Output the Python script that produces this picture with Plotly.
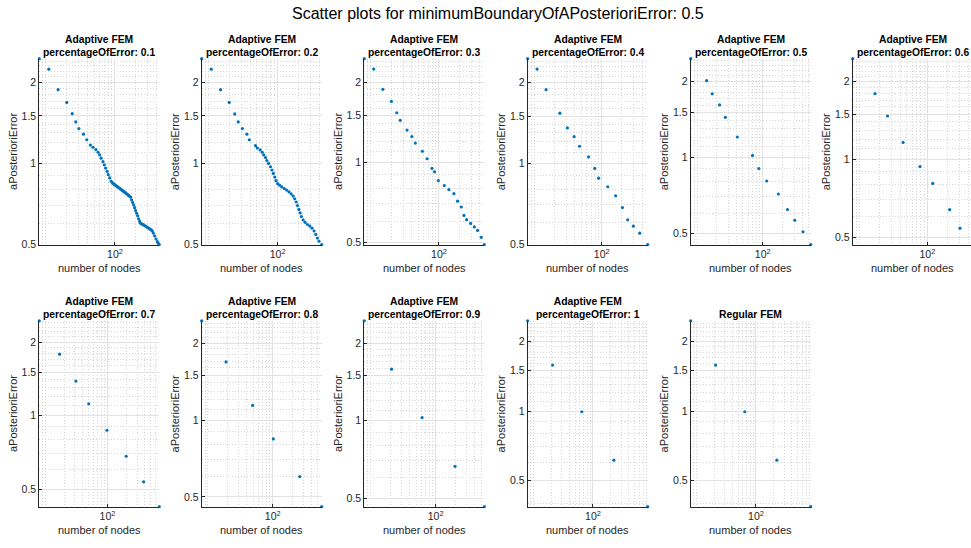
import math
import plotly.graph_objects as go

# ---------------- data ----------------
nodes_01 = [8, 11, 15, 20, 24, 27, 30, 35, 39, 44, 48, 53, 57, 60, 63, 67, 70, 73, 77, 80,
            84, 88, 92, 96, 99, 102, 106, 109, 113, 117, 121, 125, 129, 134, 138, 143, 148,
            153, 158, 163, 169, 174, 180, 186, 193, 199, 206, 213, 220, 228, 235, 246, 257,
            269, 281, 294, 308, 322, 336, 348, 359, 376, 393, 411, 425, 439]
err_01 = [2.449, 2.238, 1.879, 1.684, 1.530, 1.426, 1.347, 1.284, 1.224, 1.170, 1.147, 1.125,
          1.100, 1.075, 1.046, 1.016, 0.988, 0.961, 0.934, 0.908, 0.883, 0.858, 0.846, 0.839,
          0.834, 0.829, 0.823, 0.818, 0.814, 0.808, 0.802, 0.798, 0.792, 0.787, 0.782, 0.777,
          0.771, 0.766, 0.760, 0.755, 0.750, 0.733, 0.717, 0.701, 0.685, 0.668, 0.653, 0.639,
          0.623, 0.609, 0.600, 0.595, 0.592, 0.587, 0.584, 0.579, 0.575, 0.570, 0.566, 0.561,
          0.551, 0.538, 0.524, 0.512, 0.505, 0.4995]

nodes_02 = [8, 11, 15, 20, 24, 27, 31, 36, 39, 48, 51, 56, 60, 63, 67, 70, 74, 79, 83, 87, 91,
            95, 100, 107, 115, 125, 135, 146, 157, 168, 177, 186, 194, 203, 212, 221, 234, 250,
            270, 292, 315, 337, 356, 376, 397, 434]
err_02 = [2.449, 2.238, 1.879, 1.684, 1.526, 1.426, 1.347, 1.284, 1.224, 1.164, 1.141, 1.122,
          1.100, 1.075, 1.051, 1.025, 0.9995, 0.972, 0.945, 0.918, 0.890, 0.863, 0.841, 0.830,
          0.818, 0.807, 0.796, 0.784, 0.771, 0.756, 0.739, 0.719, 0.697, 0.675, 0.655, 0.635,
          0.617, 0.604, 0.593, 0.585, 0.575, 0.561, 0.545, 0.528, 0.514, 0.4995]

nodes_03 = [8, 11, 15, 20, 24, 27, 34, 40, 45, 57, 67, 79, 86, 98, 120, 140, 166, 188, 213,
            233, 255, 292, 331, 370, 419, 464]
err_03 = [2.459, 2.246, 1.885, 1.697, 1.538, 1.440, 1.323, 1.251, 1.182, 1.101, 1.032, 0.950,
          0.921, 0.854, 0.818, 0.789, 0.762, 0.714, 0.679, 0.631, 0.608, 0.589, 0.571, 0.554,
          0.522, 0.490]

nodes_04 = [8, 11, 15, 24, 31, 39, 47, 64, 79, 90, 123, 161, 203, 243, 295, 366, 481]
err_04 = [2.455, 2.244, 1.880, 1.537, 1.354, 1.256, 1.157, 1.055, 0.956, 0.879, 0.817, 0.756,
          0.683, 0.615, 0.582, 0.548, 0.497]

nodes_05 = [8, 14, 17, 22, 27, 41, 70, 87, 115, 173, 238, 307, 411, 538]
err_05 = [2.45, 2.006, 1.781, 1.609, 1.438, 1.203, 1.018, 0.904, 0.807, 0.717, 0.623, 0.565,
          0.509, 0.453]

nodes_06 = [8, 17, 26, 44, 78, 120, 213, 302, 464]
err_06 = [2.457, 1.799, 1.474, 1.165, 0.940, 0.809, 0.640, 0.543, 0.469]

nodes_07 = [8, 17, 31, 50, 98, 200, 381, 682]
err_07 = [2.444, 1.784, 1.384, 1.118, 0.871, 0.682, 0.536, 0.424]

nodes_08 = [8, 19, 49, 102, 261, 571]
err_08 = [2.45, 1.690, 1.142, 0.844, 0.601, 0.458]

nodes_09 = [8, 21, 62, 199, 561]
err_09 = [2.45, 1.588, 1.029, 0.665, 0.463]

nodes_10 = [8, 21, 65, 225, 833]
err_10 = [2.457, 1.58, 0.993, 0.613, 0.386]

nodes_reg = [8, 21, 65, 225, 833]
err_reg = [2.457, 1.58, 0.993, 0.613, 0.386]

pct_labels = ["0.1", "0.2", "0.3", "0.4", "0.5", "0.6", "0.7", "0.8", "0.9", "1"]
y_tick_vals = [0.5, 1, 1.5, 2]
y_tick_text = ["0.5", "1", "1.5", "2"]
x_tick_vals = [100]
x_tick_text = ["10<sup>2</sup>"]
main_title = "Scatter plots for minimumBoundaryOfAPosterioriError: 0.5"

adaptive = [(nodes_01, err_01), (nodes_02, err_02), (nodes_03, err_03), (nodes_04, err_04),
            (nodes_05, err_05), (nodes_06, err_06), (nodes_07, err_07), (nodes_08, err_08),
            (nodes_09, err_09), (nodes_10, err_10)]
panels = [("<b>Adaptive FEM</b><br><b>percentageOfError: %s</b>" % p, xs, ys)
          for p, (xs, ys) in zip(pct_labels, adaptive)]
panels.append(("<b>Regular FEM</b>", nodes_reg, err_reg))

# ---------------- layout / style ----------------
W, H = 971, 548
COL_LEFT = [39.3, 201.7, 364.3, 527.7, 690.7, 852.7]
ROW_TOP = [59.3, 324.3]
AX_W, AX_H = 120.0, 188.0
BLUE = "#0072BD"
AXC = "#262626"
FONT = "Liberation Sans, Arial, Helvetica, sans-serif"
EPS = 1e-6

minor_x = [9, 10, 20, 30, 40, 50, 60, 70, 80, 90, 200, 300, 400, 500, 600, 700, 800, 900]
minor_y = [0.4, 0.6, 0.7, 0.8, 0.9, 1.1, 1.2, 1.3, 1.4, 1.6, 1.7, 1.8, 1.9, 2.1, 2.2, 2.3, 2.4]

fig = go.Figure()
annotations = []
layout = {}

for i, (title, xs, ys) in enumerate(panels):
    r, c = divmod(i, 6)
    left = COL_LEFT[c]
    right = left + AX_W
    top = ROW_TOP[r]
    bottom = top + AX_H
    lx0, lx1 = math.log10(min(xs)) - EPS, math.log10(max(xs)) + EPS
    ly0, ly1 = math.log10(min(ys)) - EPS, math.log10(max(ys)) + EPS
    if right > W:
        lx1 = lx0 + (lx1 - lx0) * (W - left) / (right - left)
        right = W
    k = i + 1
    sx = "" if k == 1 else str(k)
    fig.add_trace(go.Scatter(
        x=xs, y=ys, mode="markers",
        marker=dict(color=BLUE, size=3.2, line=dict(width=0)),
        xaxis="x" + sx, yaxis="y" + sx, cliponaxis=False, showlegend=False,
        hoverinfo="x+y"))
    common = dict(
        showline=True, linecolor=AXC, linewidth=1, mirror=False,
        ticks="inside", ticklen=3, tickcolor=AXC, tickwidth=1,
        showgrid=True, gridcolor="#e2e2e2", gridwidth=1, zeroline=False,
        tickfont=dict(family=FONT, size=10.5, color=AXC),
        fixedrange=True,
    )
    layout["xaxis" + sx] = dict(
        common, type="log", domain=[left / W, right / W], range=[lx0, lx1],
        anchor="y" + sx, tickvals=x_tick_vals, ticktext=x_tick_text,
        minor=dict(tickvals=minor_x, showgrid=True, gridcolor="#d6d6d6",
                   griddash="1px,2px", gridwidth=1, ticks=""))
    layout["yaxis" + sx] = dict(
        common, type="log", domain=[1 - bottom / H, 1 - top / H], range=[ly0, ly1],
        anchor="x" + sx, tickvals=y_tick_vals, ticktext=y_tick_text,
        minor=dict(tickvals=minor_y, showgrid=True, gridcolor="#d6d6d6",
                   griddash="1px,2px", gridwidth=1, ticks=""))
    cx = (COL_LEFT[c] + COL_LEFT[c] + AX_W) / 2.0
    # subplot title
    annotations.append(dict(
        text=title, x=cx / W, y=1 - (top + 1) / H, xref="paper", yref="paper",
        xanchor="center", yanchor="bottom", showarrow=False,
        font=dict(family=FONT, size=10.3, color="#000000")))
    # y label
    annotations.append(dict(
        text="aPosterioriError", x=(left - 27) / W, y=1 - (top + AX_H / 2) / H,
        xref="paper", yref="paper", xanchor="center", yanchor="middle",
        textangle=-90, showarrow=False, font=dict(family=FONT, size=11, color=AXC)))
    # x label
    annotations.append(dict(
        text="number of nodes", x=cx / W, y=1 - (bottom + 24) / H,
        xref="paper", yref="paper", xanchor="center", yanchor="middle",
        showarrow=False, font=dict(family=FONT, size=11, color=AXC)))

annotations.append(dict(
    text=main_title, x=498.5 / W, y=1 - 14 / H, xref="paper", yref="paper",
    xanchor="center", yanchor="middle", showarrow=False,
    font=dict(family=FONT, size=16, color="#000000")))

fig.update_layout(
    width=W, height=H, autosize=False,
    margin=dict(l=0, r=0, t=0, b=0, pad=0),
    paper_bgcolor="white", plot_bgcolor="white",
    annotations=annotations, **layout)

fig.write_html("out.html", config={"displayModeBar": False})
